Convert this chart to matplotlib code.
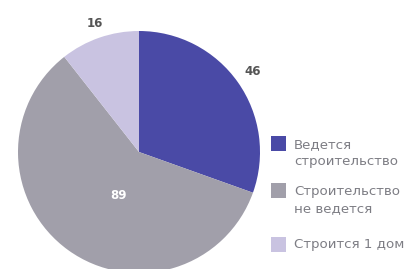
import numpy as np
import matplotlib
matplotlib.use("Agg")
import matplotlib.pyplot as plt
from matplotlib.patches import Rectangle

categories = ["Ведется\nстроительство", "Строительство\nне ведется", "Строится 1 дом"]
values = [46, 89, 16]
colors = ["#4a4aa6", "#a19faa", "#c9c3e1"]
label_colors = ["#555555", "#ffffff", "#555555"]
label_dist = [1.15, 0.40, 1.12]
label_angle_offset = [0, 11, 0]

W, H = 405, 269
fig = plt.figure(figsize=(W / 100, H / 100), dpi=100)
ax = fig.add_axes([0, 0, 1, 1])

cx, cy, R = 139, H - 152, 121
wedges, _ = ax.pie(values, colors=colors, startangle=90, counterclock=False,
                   center=(cx, cy), radius=R, frame=True,
                   wedgeprops=dict(linewidth=0))
ax.set_xlim(0, W)
ax.set_ylim(0, H)
ax.set_aspect("equal")
ax.axis("off")

for w, v, c, d, off in zip(wedges, values, label_colors, label_dist, label_angle_offset):
    ang = np.deg2rad((w.theta1 + w.theta2) / 2 + off)
    ax.text(cx + d * R * np.cos(ang), cy + d * R * np.sin(ang), str(v),
            ha="center", va="center", fontsize=8.5, fontweight="bold", color=c)

# manual legend (layout in pixel coordinates from top)
sq_x, sq_size = 271, 15
sq_tops = [136, 183, 237]
first_baselines = [148, 195, 248]
line_gap = 17.5
text_x = 294
for lab, col, top, base in zip(categories, colors, sq_tops, first_baselines):
    ax.add_patch(Rectangle((sq_x, H - top - sq_size), sq_size, sq_size,
                           facecolor=col, edgecolor="none"))
    for i, line in enumerate(lab.split("\n")):
        ax.text(text_x, H - (base + i * line_gap), line, ha="left", va="baseline",
                fontsize=9.6, color="#7d7d84")

fig.savefig("out.png", dpi=100)
